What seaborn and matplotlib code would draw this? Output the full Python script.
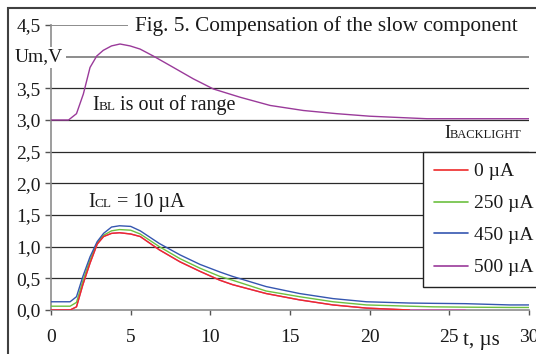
import numpy as np
import pandas as pd
import matplotlib
matplotlib.use("Agg")
import matplotlib.pyplot as plt
from matplotlib.lines import Line2D
from matplotlib.patches import Rectangle
import seaborn as sns

# ---------------- data ----------------
t_low = [0, 1.2, 1.6, 2.0, 2.45, 2.9, 3.3, 3.8, 4.3, 5.0, 5.6, 6.8, 8.1, 9.35,
         10.6, 11.4, 13.5, 15.6, 17.7, 19.8, 22.5, 24, 26, 28.8, 30]
u_450 = [0.13, 0.13, 0.21, 0.53, 0.84, 1.08, 1.21, 1.31, 1.33, 1.32, 1.25, 1.05,
         0.87, 0.72, 0.60, 0.53, 0.37, 0.26, 0.18, 0.13, 0.11, 0.105, 0.10, 0.08, 0.08]
u_250 = [0.06, 0.06, 0.12, 0.46, 0.79, 1.06, 1.18, 1.25, 1.27, 1.26, 1.20, 1.00,
         0.81, 0.66, 0.53, 0.47, 0.30, 0.21, 0.13, 0.08, 0.06, 0.05, 0.045, 0.04, 0.04]
u_0 = [0.0, 0.0, 0.05, 0.40, 0.74, 1.04, 1.16, 1.21, 1.22, 1.20, 1.16, 0.95,
       0.76, 0.61, 0.47, 0.40, 0.26, 0.16, 0.08, 0.03, 0.0]
u_500_low = [0.0, 0.0, 0.05, 0.40, 0.74, 1.04, 1.16, 1.21, 1.22, 1.20, 1.16, 0.95,
             0.76, 0.61, 0.47, 0.40, 0.26, 0.16, 0.08, 0.03, 0.0, 0.0, 0.0]
t_up = [0, 1.1, 1.6, 2.03, 2.45, 2.87, 3.28, 3.8, 4.33, 4.96, 5.59, 6.42, 7.68,
        8.93, 10.19, 11.86, 13.75, 15.84, 17.93, 20.0, 23.6, 30]
u_500_up = [3.0, 3.0, 3.10, 3.41, 3.83, 4.01, 4.10, 4.17, 4.20, 4.17, 4.12, 4.01,
            3.83, 3.65, 3.49, 3.36, 3.23, 3.15, 3.10, 3.06, 3.02, 3.02]

labels = ["0 µA", "250 µA", "450 µA", "500 µA"]
colors = ["#ee2a2a", "#6cc040", "#3556b0", "#9a3a9a"]
x_ticks = [0, 5, 10, 15, 20, 25, 30]
y_ticks = [0.0, 0.5, 1.0, 1.5, 2.0, 2.5, 3.0, 3.5, 4.0, 4.5]
y_tick_labels = ["0,0", "0,5", "1,0", "1,5", "2,0", "2,5", "3,0", "3,5", "", "4,5"]

# ---------------- figure ----------------
sns.set_theme(style="white")
plt.rcParams["font.family"] = ["Liberation Serif", "DejaVu Serif"]

W, H = 536, 354
fig = plt.figure(figsize=(W / 100, H / 100), dpi=100)
fig.patch.set_facecolor("white")
ax = fig.add_axes([51 / W, 1 - 310 / H, (529 - 51) / W, (310 - 25) / H])
ax.set_facecolor("white")


def frame(t, u, name):
    return pd.DataFrame({"t": t, "u": u, "series": name})


df_low = pd.concat([
    frame(t_low[:len(u_500_low)], u_500_low, "500 low"),
    frame(t_low, u_250, labels[1]),
    frame(t_low, u_450, labels[2]),
    frame(t_low[:len(u_0)], u_0, labels[0]),
])
pal = {"500 low": "#d04fb0", labels[0]: colors[0], labels[1]: colors[1], labels[2]: colors[2]}
sns.lineplot(data=df_low, x="t", y="u", hue="series", palette=pal, ax=ax,
             legend=False, linewidth=1.0, sort=False, estimator=None, zorder=3)
sns.lineplot(data=frame(t_up, u_500_up, labels[3]), x="t", y="u", color=colors[3],
             ax=ax, legend=False, linewidth=1.0, sort=False, estimator=None, zorder=3)

# grid lines
for yv in y_ticks[1:]:
    if yv >= 4.0:
        ax.axhline(yv, color="#8c8c8c", lw=1.4, zorder=1)
    else:
        ax.axhline(yv, color="#2a2a2a", lw=0.9, zorder=1)

ax.set_xlim(0, 30)
ax.set_ylim(0, 4.5)
ax.set_xticks(x_ticks)
ax.set_xticklabels([str(v) for v in x_ticks])
ax.set_yticks(y_ticks)
ax.set_yticklabels(y_tick_labels)
ax.set_xlabel("")
ax.set_ylabel("")
for s in ["top", "right"]:
    ax.spines[s].set_visible(False)
for s in ["left", "bottom"]:
    ax.spines[s].set_color("#8c8c8c")
    ax.spines[s].set_linewidth(1.2)
ax.tick_params(axis="x", direction="out", length=3.5, width=1, color="#555555",
               pad=10.5, labelsize=14, labelcolor="#1a1a1a", bottom=True)
ax.tick_params(axis="y", direction="out", length=4.5, width=1, color="#555555",
               pad=3, labelsize=14, labelcolor="#1a1a1a", left=True)
ax.grid(False)

# legend
handles = [Line2D([], [], color=c, lw=1.2) for c in colors]
leg = ax.legend(handles, labels, loc="upper left",
                bbox_to_anchor=(423 / W, 1 - 152 / H), bbox_transform=fig.transFigure,
                frameon=True, fancybox=False, fontsize=14, handlelength=1.75,
                handletextpad=0.3, labelspacing=0.74, borderpad=0.55,
                borderaxespad=0)
leg.get_frame().set_edgecolor("#222222")
leg.get_frame().set_linewidth(1.0)
leg.get_frame().set_facecolor("white")
leg.get_frame().set_alpha(1)
for txt in leg.get_texts():
    txt.set_color("#1a1a1a")

# white masks behind overlay texts
fig.add_artist(Rectangle((128 / W, 1 - 38 / H), (W - 128) / W, 24 / H,
                         transform=fig.transFigure, fc="white", ec="none", zorder=5))
fig.add_artist(Rectangle((8 / W, 1 - 68 / H), 58 / W, 21 / H,
                         transform=fig.transFigure, fc="white", ec="none", zorder=5))

fig.canvas.draw()
renderer = fig.canvas.get_renderer()


def rich(x_px, y_px, pieces, color="#1a1a1a"):
    x = x_px
    for s, size, gap in pieces:
        t = fig.text(x / W, 1 - y_px / H, s, fontsize=size, va="baseline",
                     ha="left", color=color, zorder=6)
        bb = t.get_window_extent(renderer)
        x += bb.width + gap


fig.text(135 / W, 1 - 26 / H, "Fig. 5. Compensation of the slow component",
         fontsize=15.3, va="center", ha="left", color="#1a1a1a", zorder=6)
fig.text(15 / W, 1 - 57 / H, "Um,V", fontsize=14, va="center", ha="left",
         color="#1a1a1a", zorder=6)
rich(92, 110, [("I", 14.5, 0), ("BL", 9.5, 4), ("is out of range", 14.5, 0)])
rich(444, 138, [("I", 13, 0), ("BACKLIGHT", 9, 0)])
rich(88, 207, [("I", 14.5, 0), ("CL", 9.5, 5), ("= 10 µA", 14.5, 0)])
fig.text(463 / W, 1 - 345 / H, "t, µs", fontsize=15, va="baseline", ha="left",
         color="#1a1a1a", zorder=6)

# outer frame
fig.add_artist(Rectangle((8 / W, -0.1), 1.2, (1 - 8 / H) + 0.1,
                         transform=fig.transFigure, fill=False,
                         ec="#404040", lw=1.5, zorder=20))

fig.savefig("out.png", dpi=100)
